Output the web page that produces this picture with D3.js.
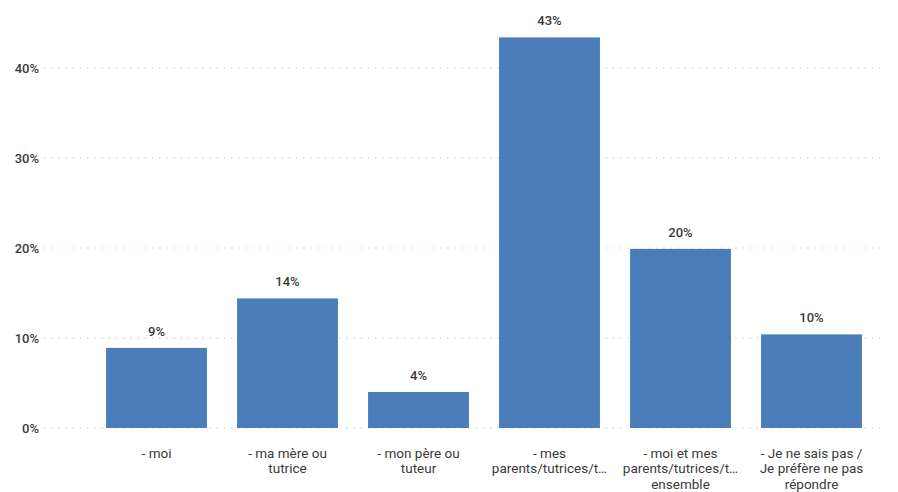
<!DOCTYPE html>
<html>
<head>
<meta charset="utf-8">
<script src="https://cdn.jsdelivr.net/npm/d3@7"></script>
<style>
  html, body { margin: 0; padding: 0; background: #fff; }
  svg { display: block; }
  text { font-family: "Roboto", "DejaVu Sans", sans-serif; fill: #3a3a3a; }
</style>
</head>
<body>
<svg id="chart" width="898" height="492"></svg>
<script>
// Category labels, already split into display lines
const categories = [
  ["- moi"],
  ["- ma mère ou", "tutrice"],
  ["- mon père ou", "tuteur"],
  ["- mes", "parents/tutrices/t…"],
  ["- moi et mes", "parents/tutrices/t…", "ensemble"],
  ["- Je ne sais pas /", "Je préfère ne pas", "répondre"]
];
// Share of respondents, in percent
const values = [8.9, 14.4, 4.0, 43.4, 19.9, 10.4];
const yTicks = [0, 10, 20, 30, 40];

const svg = d3.select("#chart");
const idx = d3.range(categories.length);

const x = d3.scaleBand().domain(idx).range([91, 877]).paddingInner(0.23).paddingOuter(0.115);
const y = d3.scaleLinear().domain([0, 45]).range([428, 23]);

// Dotted horizontal gridlines with percentage labels
const grid = svg.append("g");
grid.selectAll("line").data(yTicks).join("line")
  .attr("x1", 44).attr("x2", 880)
  .attr("y1", d => y(d)).attr("y2", d => y(d))
  .attr("stroke", "#c4c4c4").attr("stroke-width", 1)
  .attr("stroke-dasharray", "1.2,6");

const yAxis = d3.axisLeft(y).tickValues(yTicks).tickFormat(d => d + "%").tickSize(0).tickPadding(0);
svg.append("g").attr("transform", "translate(39,0)").call(yAxis)
  .call(g => g.select(".domain").remove())
  .call(g => g.selectAll("text").attr("font-size", 13).attr("font-weight", 500)
    .attr("fill", "#3a3a3a").style("font-family", "Roboto, sans-serif"));

// Bars
svg.append("g").selectAll("rect").data(values).join("rect")
  .attr("x", (d, i) => x(i))
  .attr("width", x.bandwidth())
  .attr("y", d => y(d))
  .attr("height", d => y(0) - y(d))
  .attr("fill", "#4a7db9");

// Value labels above bars
svg.append("g").selectAll("text").data(values).join("text")
  .attr("x", (d, i) => x(i) + x.bandwidth() / 2)
  .attr("y", d => y(d) - 12)
  .attr("text-anchor", "middle")
  .attr("font-size", 13).attr("font-weight", 500)
  .text(d => d3.format(".0f")(d) + "%");

// Category labels under the axis
const cat = svg.append("g").selectAll("text").data(categories).join("text")
  .attr("text-anchor", "middle")
  .attr("font-size", 13.5)
  .attr("transform", (d, i) => `translate(${x(i) + x.bandwidth() / 2},457.5)`);
cat.selectAll("tspan").data(d => d).join("tspan")
  .attr("x", 0)
  .attr("y", (d, j) => j * 15.5)
  .text(d => d);
</script>
</body>
</html>
